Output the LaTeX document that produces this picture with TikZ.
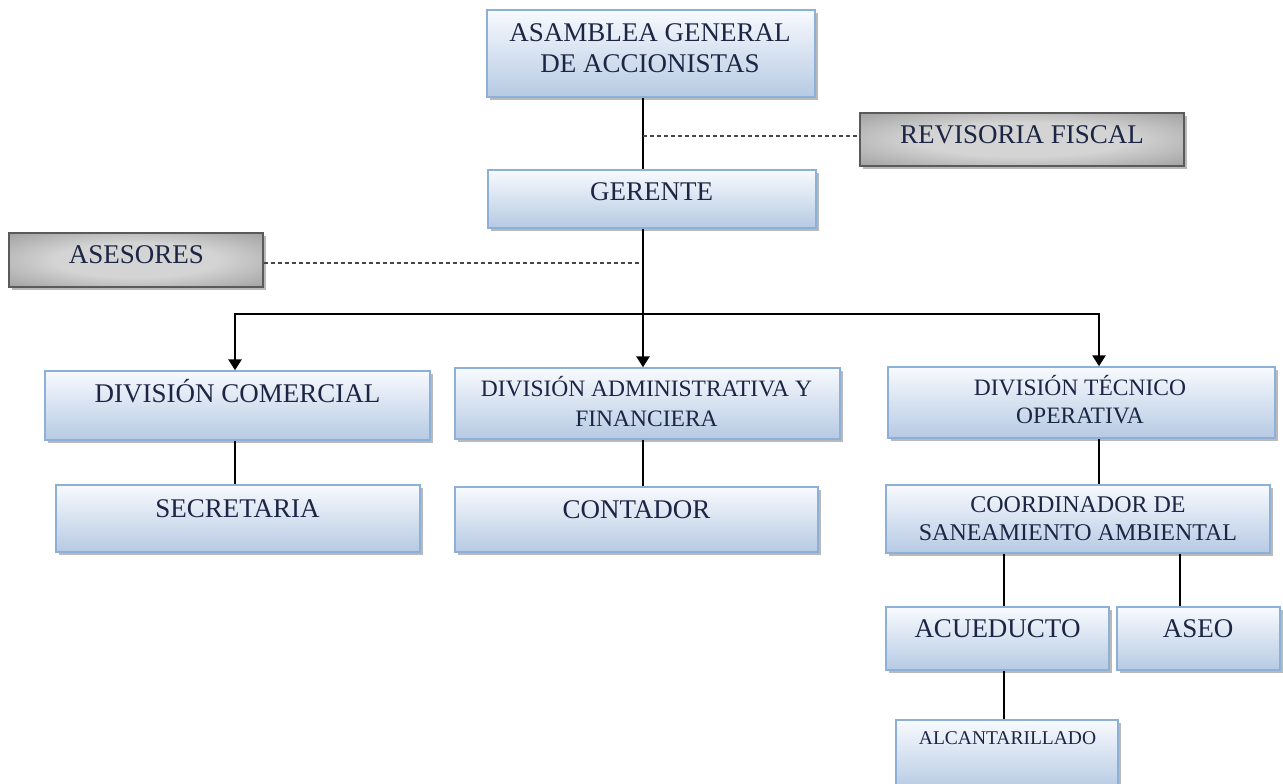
\documentclass[tikz,border=0pt]{standalone}
\usepackage{fontspec}
\setmainfont{Liberation Serif}
\usetikzlibrary{arrows.meta,shadows,calc}
\definecolor{navy}{RGB}{28,38,68}
\definecolor{boxtop}{RGB}{248,250,254}
\definecolor{boxbot}{RGB}{182,202,227}
\definecolor{boxedge}{RGB}{141,176,216}
\definecolor{metalA}{RGB}{212,212,212}
\definecolor{metalB}{RGB}{150,150,150}
\definecolor{metalC}{RGB}{80,80,80}
\definecolor{metaledge}{RGB}{90,90,90}
\definecolor{dashcol}{RGB}{70,70,70}
\pgfdeclareradialshading{metal}{\pgfpoint{0bp}{0bp}}{color(0bp)=(metalA); color(16bp)=(metalA); color(40bp)=(metalB); color(62bp)=(metalC); color(75bp)=(metalC)}
\tikzset{
  bluebox/.style={draw=boxedge, line width=1.4pt, top color=boxtop, bottom color=boxbot, inner sep=0pt,
    drop shadow={shadow xshift=3pt, shadow yshift=-3pt, fill=black!55, opacity=0.5}},
  graybox/.style={draw=metaledge, line width=1.4pt, shading=metal, inner sep=0pt,
    drop shadow={shadow xshift=3pt, shadow yshift=-3pt, fill=black!55, opacity=0.5}},
  lbl/.style={text=navy, inner sep=0pt, align=center, anchor=base},
  bigfont/.style={font=\fontsize{27}{31}\selectfont},
  conn/.style={draw=black, line width=2.6pt},
  dashedlink/.style={draw=dashcol, line width=1.3pt, dash pattern=on 4pt off 3pt},
  arrowtip/.style={-{Triangle[width=13pt,length=11pt]}}
}
\begin{document}
\begin{tikzpicture}[x=1pt,y=-1pt]
\useasboundingbox (0,0) rectangle (1283,784);
% boxes
\node[bluebox, minimum width=328pt, minimum height=87pt] (asamblea) at (651,53.5) {};
\node[bluebox, minimum width=328pt, minimum height=58pt] (gerente) at (652,199) {};
\node[graybox, minimum width=324pt, minimum height=53pt] (revisoria) at (1022,139.5) {};
\node[graybox, minimum width=254pt, minimum height=54pt] (asesores) at (136,260) {};
\node[bluebox, minimum width=385pt, minimum height=69pt] (divcom) at (237.5,405.5) {};
\node[bluebox, minimum width=385pt, minimum height=71pt] (divadm) at (647.5,403.5) {};
\node[bluebox, minimum width=387pt, minimum height=71pt] (divtec) at (1081.5,402.5) {};
\node[bluebox, minimum width=364pt, minimum height=67pt] (secretaria) at (238,518.5) {};
\node[bluebox, minimum width=363pt, minimum height=65pt] (contador) at (636.5,519.5) {};
\node[bluebox, minimum width=384pt, minimum height=68pt] (coord) at (1078,519) {};
\node[bluebox, minimum width=223pt, minimum height=63pt] (acueducto) at (997.5,638.5) {};
\node[bluebox, minimum width=163pt, minimum height=63pt] (aseo) at (1198.5,638.5) {};
\node[bluebox, minimum width=222pt, minimum height=70pt] (alcant) at (1007,755) {};
% labels (anchor=base is the baseline of the last line)
\node[lbl, bigfont] (asamblea-t) at (650,73) {ASAMBLEA GENERAL\\DE ACCIONISTAS};
\node[lbl, bigfont] (gerente-t) at (651.5,200) {GERENTE};
\node[lbl, bigfont] (revisoria-t) at (1022,143) {REVISORIA FISCAL};
\node[lbl, bigfont] (asesores-t) at (136.5,263) {ASESORES};
\node[lbl, bigfont] (divcom-t) at (237.5,402) {DIVISIÓN COMERCIAL};
\node[lbl, font=\fontsize{23.5}{30}\selectfont] (divadm-t) at (646.5,426) {DIVISIÓN ADMINISTRATIVA Y\\FINANCIERA};
\node[lbl, font=\fontsize{23.5}{28}\selectfont] (divtec-t) at (1080,423) {DIVISIÓN TÉCNICO\\OPERATIVA};
\node[lbl, bigfont] (secretaria-t) at (237.5,517) {SECRETARIA};
\node[lbl, bigfont] (contador-t) at (636.5,518) {CONTADOR};
\node[lbl, font=\fontsize{24}{28}\selectfont] (coord-t) at (1078,540) {COORDINADOR DE\\SANEAMIENTO AMBIENTAL};
\node[lbl, bigfont] (acueducto-t) at (997.5,637) {ACUEDUCTO};
\node[lbl, bigfont] (aseo-t) at (1198,637) {ASEO};
\node[lbl, font=\fontsize{19.5}{24}\selectfont] (alcant-t) at (1007.5,744) {ALCANTARILLADO};
% helper coordinates
\coordinate (spine) at (643,0);
\coordinate (rfj) at (643,136);
\coordinate (asj) at (643,263);
\coordinate (bar) at (643,314);
\coordinate (comx) at (235,0);
\coordinate (tecx) at (1099,0);
\coordinate (acx) at (1004,0);
\coordinate (asx) at (1180,0);
% connectors
\draw[conn] (asamblea.south -| spine) -- (gerente.north -| spine);
\draw[dashedlink] (rfj) -- (rfj -| revisoria.west);
\draw[dashedlink] (asj -| asesores.east) -- (asj);
\draw[conn] (gerente.south -| spine) -- (bar);
\draw[conn, arrowtip] (bar) -| (divcom.north -| comx);
\draw[conn, arrowtip] (bar) -| (divtec.north -| tecx);
\draw[conn, arrowtip] (bar) -- (divadm.north -| spine);
\draw[conn] (divcom.south -| comx) -- (secretaria.north -| comx);
\draw[conn] (divadm.south -| spine) -- (contador.north -| spine);
\draw[conn] (divtec.south -| tecx) -- (coord.north -| tecx);
\draw[conn] (coord.south -| acx) -- (acueducto.north -| acx);
\draw[conn] (coord.south -| asx) -- (aseo.north -| asx);
\draw[conn] (acueducto.south -| acx) -- (alcant.north -| acx);
\end{tikzpicture}
\end{document}
